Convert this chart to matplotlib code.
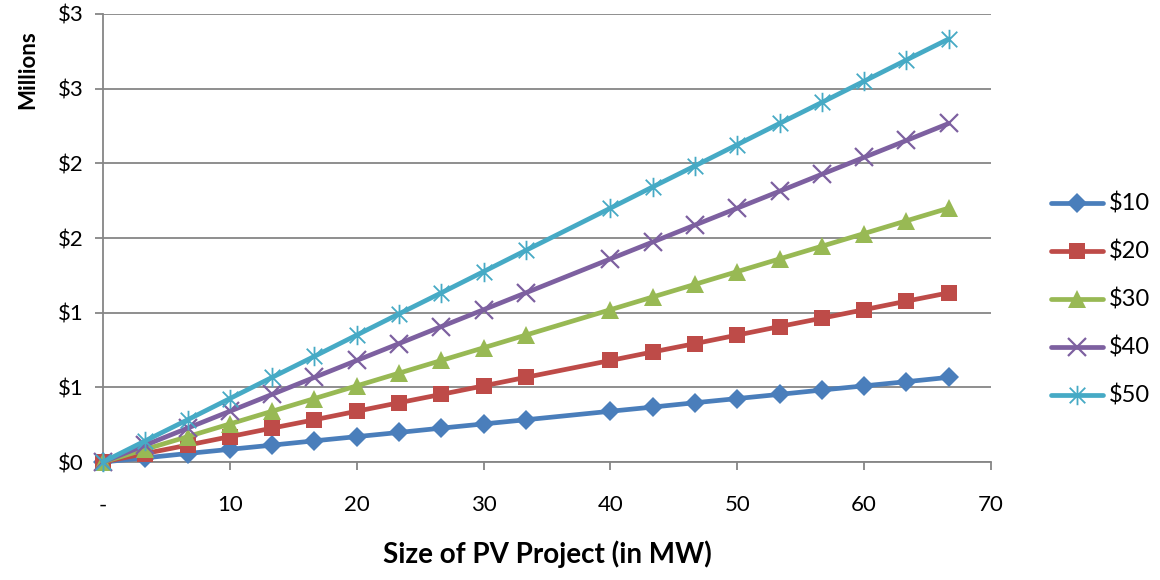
import matplotlib
matplotlib.use("Agg")
import matplotlib.pyplot as plt
from matplotlib.path import Path

plt.rcParams['font.family'] = ['Lato', 'DejaVu Sans']

# size of PV project (MW)
mw = [0, 3.33, 6.67, 10, 13.33, 16.67, 20, 23.33, 26.67, 30, 33.33,
      40, 43.33, 46.67, 50, 53.33, 56.67, 60, 63.33, 66.67]

# value in millions, per price level
s10 = [0, 0.028, 0.057, 0.085, 0.113, 0.142, 0.17, 0.198, 0.227, 0.255, 0.283,
       0.34, 0.368, 0.397, 0.425, 0.453, 0.482, 0.51, 0.538, 0.567]
s20 = [0, 0.057, 0.113, 0.17, 0.227, 0.283, 0.34, 0.397, 0.453, 0.51, 0.567,
       0.68, 0.737, 0.793, 0.85, 0.907, 0.963, 1.02, 1.077, 1.133]
s30 = [0, 0.085, 0.17, 0.255, 0.34, 0.425, 0.51, 0.595, 0.68, 0.765, 0.85,
       1.02, 1.105, 1.19, 1.275, 1.36, 1.445, 1.53, 1.615, 1.7]
s40 = [0, 0.113, 0.227, 0.34, 0.453, 0.567, 0.68, 0.793, 0.907, 1.02, 1.133,
       1.36, 1.473, 1.587, 1.7, 1.813, 1.927, 2.04, 2.153, 2.267]
s50 = [0, 0.142, 0.283, 0.425, 0.567, 0.708, 0.85, 0.992, 1.133, 1.275, 1.417,
       1.7, 1.842, 1.983, 2.125, 2.267, 2.408, 2.55, 2.692, 2.833]

labels = ["$10", "$20", "$30", "$40", "$50"]
yticks = [0, 0.5, 1.0, 1.5, 2.0, 2.5, 3.0]
ytick_labels = ["$0", "$1", "$1", "$2", "$2", "$3", "$3"]
xticks = [0, 10, 20, 30, 40, 50, 60, 70]
xtick_labels = ["-", "10", "20", "30", "40", "50", "60", "70"]

# excel-style asterisk: an X plus a vertical bar
star = Path([(-1, -1), (1, 1), (-1, 1), (1, -1), (0, -1.25), (0, 1.25)],
            [Path.MOVETO, Path.LINETO, Path.MOVETO, Path.LINETO, Path.MOVETO, Path.LINETO])

colors = ["#4A7EBB", "#BE4B48", "#98B954", "#7D60A0", "#46AAC5"]
markers = ["D", "s", "^", "x", star]
msizes = [10, 12, 13, 13, 14]
medges = [0, 0, 0, 1.6, 1.3]

fig = plt.figure(figsize=(11.6, 5.8), dpi=100)
ax = fig.add_axes([0.0888, 0.2034, 0.7655, 0.7725])

for ys, lab, c, m, ms, mew in zip([s10, s20, s30, s40, s50], labels, colors, markers, msizes, medges):
    ax.plot(mw, ys, color=c, lw=3.4, marker=m, markersize=ms, mew=mew,
            mec=c, mfc=c, label=lab, solid_capstyle='round', clip_on=False, zorder=3)

ax.set_xlim(0, 70)
ax.set_ylim(0, 3.0)
ax.set_yticks(yticks)
ax.set_yticklabels(ytick_labels)
ax.set_xticks(xticks)
ax.set_xticklabels(xtick_labels)
ax.grid(axis='y', color='#868686', lw=1.3)
ax.set_axisbelow(True)
for side in ['top', 'right']:
    ax.spines[side].set_visible(False)
for side in ['left', 'bottom']:
    ax.spines[side].set_color('#868686')
    ax.spines[side].set_linewidth(1.3)
ax.tick_params(axis='both', colors='#868686', length=6, width=1.3, labelsize=16, labelcolor='black')
ax.tick_params(axis='y', pad=8)
ax.tick_params(axis='x', pad=18)

ax.set_xlabel("Size of PV Project (in MW)", fontsize=20, fontweight='bold', labelpad=18)
fig.text(0.024, 0.88, "Millions", rotation=90, fontsize=16, fontweight='bold', ha='center', va='center')

ax.legend(loc='center left', bbox_to_anchor=(0.906, 0.483), bbox_transform=fig.transFigure,
          frameon=False, fontsize=17, handlelength=2.2, labelspacing=1.1, handletextpad=0.25,
          borderpad=0, borderaxespad=0)

fig.savefig("out.png", dpi=100)
